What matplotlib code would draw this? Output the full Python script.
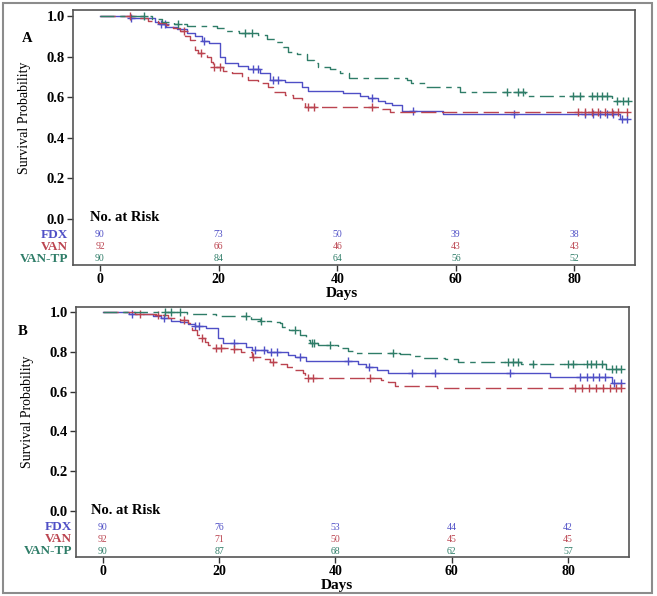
import numpy as np
import matplotlib
matplotlib.use("Agg")
import matplotlib.pyplot as plt
from matplotlib.patches import Rectangle

# ---------------- data ----------------
GROUPS = ["FDX", "VAN", "VAN-TP"]
RISK_DAYS = [0, 20, 40, 60, 80]

# Panel A
A_FDX_T = [5, 9.3, 10, 11.2, 12.9, 14.6, 16, 17.2, 18.3, 20.2, 21, 23.3, 25, 26.9, 28.7,
           31.2, 34, 35.1, 41, 43.8, 45.2, 46.9, 48, 49.2, 50.9, 57.9, 87.7]
A_FDX_S = [0.99, 0.972, 0.96, 0.947, 0.934, 0.918, 0.90, 0.878, 0.865, 0.80, 0.767, 0.754,
           0.737, 0.72, 0.685, 0.673, 0.649, 0.632, 0.619, 0.606, 0.595, 0.583, 0.572, 0.56,
           0.534, 0.516, 0.493]
A_FDX_C = [5.3, 10.3, 11, 17.5, 25.8, 26.6, 29.2, 30, 45.8, 52.8, 69.8, 81.8, 83.1, 84.3,
           85.5, 86.5, 88, 88.8]

A_VAN_T = [6, 8.1, 9.8, 11.2, 12.3, 13.5, 14.3, 15.2, 16, 16.5, 18, 18.8, 19.1, 20.8, 22.2,
           23.9, 25, 26.7, 28.3, 29.2, 31.2, 32.6, 34, 34.6, 47.5, 48.9]
A_VAN_S = [0.989, 0.978, 0.967, 0.956, 0.939, 0.928, 0.90, 0.88, 0.832, 0.819, 0.80, 0.775,
           0.747, 0.73, 0.718, 0.70, 0.685, 0.668, 0.65, 0.627, 0.611, 0.594, 0.578, 0.553,
           0.541, 0.529]
A_VAN_C = [5, 14.2, 17, 19.3, 20.2, 35, 36, 45.8, 80.6, 81.8, 83, 84, 85.2, 86.3, 87.4, 88.9]

A_TP_T = [8.7, 10.5, 12.5, 14.6, 19.7, 21.3, 23.5, 26.7, 28.1, 29.5, 30.9, 31.7, 33.2, 34.9,
          36, 36.8, 38.8, 40.5, 41.9, 51.7, 52.5, 54.8, 60.7, 71.7, 86.3]
A_TP_S = [0.985, 0.97, 0.96, 0.95, 0.942, 0.928, 0.918, 0.906, 0.885, 0.873, 0.849, 0.824,
          0.813, 0.783, 0.767, 0.747, 0.737, 0.72, 0.695, 0.685, 0.672, 0.649, 0.628, 0.606,
          0.58]
A_TP_C = [7.5, 13.2, 24.5, 25.6, 68.7, 70.5, 71.4, 79.8, 81, 82.9, 83.8, 84.6, 85.4, 87.1,
          88.1, 89.1]

A_RISK_FDX = [90, 73, 50, 39, 38]
A_RISK_VAN = [92, 66, 46, 43, 43]
A_RISK_TP = [90, 84, 64, 56, 52]

# Panel B
B_FDX_T = [4.6, 8.6, 10.1, 11.8, 13.2, 14.6, 15.8, 17.8, 19.8, 20.7, 24.7, 25.6, 28.3, 31.9,
           33, 35, 43.9, 45.3, 47.1, 49.1, 76.9, 87.5]
B_FDX_S = [0.99, 0.98, 0.968, 0.956, 0.948, 0.938, 0.931, 0.918, 0.868, 0.845, 0.826, 0.81,
           0.797, 0.784, 0.772, 0.754, 0.737, 0.722, 0.709, 0.694, 0.675, 0.645]
B_FDX_C = [5, 10.5, 15.8, 16.6, 22.6, 26.2, 27.7, 29, 29.9, 33.9, 42.2, 45.8, 53.1, 57.1,
           70.1, 82, 83.2, 84.3, 85.3, 86.3, 88, 89.2]

B_VAN_T = [5.5, 9.2, 11.3, 13.2, 14.6, 15.3, 16.2, 16.7, 17.5, 18.1, 18.8, 22.1, 23.8, 25.6,
           27.6, 28.8, 30.4, 31.6, 33, 34.4, 34.7, 47.9, 49, 50.2, 57.4]
B_VAN_S = [0.99, 0.985, 0.971, 0.96, 0.943, 0.91, 0.884, 0.868, 0.848, 0.834, 0.818, 0.812,
           0.80, 0.775, 0.764, 0.75, 0.737, 0.725, 0.709, 0.692, 0.67, 0.658, 0.647, 0.628,
           0.617]
B_VAN_C = [6.4, 9.5, 14, 17.1, 19.5, 20.4, 22.5, 25.9, 29.2, 35.3, 36.1, 45.9, 81.2, 82.5,
           83.7, 84.9, 86, 87.2, 88.3, 89.2]

B_TP_T = [14.5, 19.5, 25.5, 27, 29, 30.4, 30.9, 32, 33.9, 35, 35.6, 37, 40.5, 42.2, 43.4,
          51.1, 52.8, 54.5, 58.8, 61.1, 72, 86.6]
B_TP_S = [0.989, 0.978, 0.967, 0.956, 0.95, 0.943, 0.926, 0.91, 0.884, 0.859, 0.845, 0.834,
          0.817, 0.806, 0.792, 0.787, 0.779, 0.77, 0.762, 0.75, 0.739, 0.712]
B_TP_C = [10.7, 11.8, 13.2, 24.7, 27.3, 33, 36, 36.3, 39, 49.9, 69.7, 70.6, 71.4, 74, 80,
          80.9, 83.2, 84, 84.9, 85.8, 87.5, 88.3, 89.2]

B_RISK_FDX = [90, 76, 53, 44, 42]
B_RISK_VAN = [92, 71, 50, 45, 45]
B_RISK_TP = [90, 87, 68, 62, 57]

# ---------------- styling ----------------
COLORS = ["#4f4fc6", "#bb4450", "#2f7d68"]
DASHES = [None, (11, 4), (10, 4, 4, 4)]
SERIF = ["Liberation Serif", "DejaVu Serif"]

W, H = 657, 596
fig = plt.figure(figsize=(W / 100, H / 100), dpi=100)
fig.patch.set_facecolor("white")


def step_value(times, surv, t):
    idx = np.searchsorted(np.asarray(times), t, side="right")
    vals = np.concatenate([[1.0], surv])
    return vals[idx]


def draw_panel(rect, xlim, ylim, curves, risks, label, label_xy, days_xy, ylab_xy,
               lab_x, nar_x):
    ax = fig.add_axes(rect)
    for (t, s, c), col, dsh in zip(curves, COLORS, DASHES):
        tend = max(max(c), t[-1])
        tt = [0] + list(t) + [tend]
        ss = [1.0] + list(s) + [s[-1]]
        ln, = ax.step(tt, ss, where="post", color=col, lw=1.0)
        if dsh is not None:
            ln.set_dashes(dsh)
        cy = step_value(t, s, np.asarray(c))
        ax.plot(c, cy, ls="none", marker="+", ms=5.5, mew=1.0, color=col)
    ax.set_xlim(*xlim)
    ax.set_ylim(*ylim)
    ax.set_yticks([0.0, 0.2, 0.4, 0.6, 0.8, 1.0])
    ax.set_yticklabels(["0.0", "0.2", "0.4", "0.6", "0.8", "1.0"])
    ax.set_xticks(RISK_DAYS)
    for sp in ax.spines.values():
        sp.set_color("#555555")
        sp.set_linewidth(1.2)
    ax.tick_params(direction="out", length=4, width=1.0, color="#333333", pad=2)
    for tl in ax.get_yticklabels():
        tl.set_fontfamily(SERIF)
        tl.set_fontweight("bold")
        tl.set_fontsize(10.5)
    for tl in ax.get_xticklabels():
        tl.set_fontfamily(SERIF)
        tl.set_fontweight("bold")
        tl.set_fontsize(10)
    ax.set_xlabel("Days", family=SERIF, fontweight="bold", fontsize=11)
    ax.xaxis.set_label_coords(*days_xy)
    ax.set_ylabel("Survival Probability", family=SERIF, fontsize=10)
    ax.yaxis.set_label_coords(*ylab_xy)

    tr = ax.get_xaxis_transform()
    ax.text(nar_x, 0.185, "No. at Risk", transform=ax.transAxes, family=SERIF,
            fontweight="bold", fontsize=10.5, ha="left", va="center")
    rows_y = [0.118, 0.071, 0.024]
    for g, vals, col, yy in zip(GROUPS, risks, COLORS, rows_y):
        ax.text(lab_x, yy, g, transform=ax.transAxes, family=SERIF, fontweight="bold",
                fontsize=9.5, color=col, ha="right", va="center")
        for d, v in zip(RISK_DAYS, vals):
            ax.text(d, yy, str(v), transform=tr, family=SERIF, fontsize=7, color=col,
                    ha="center", va="center")
    fig.text(label_xy[0] / W, 1 - label_xy[1] / H, label, family=SERIF,
             fontweight="bold", fontsize=10.5, ha="center", va="center")
    return ax


draw_panel([73 / W, 1 - 265 / H, 562 / W, 255 / H], (-4.55, 90.2), (-0.227, 1.03),
           [(A_FDX_T, A_FDX_S, A_FDX_C), (A_VAN_T, A_VAN_S, A_VAN_C), (A_TP_T, A_TP_S, A_TP_C)],
           [A_RISK_FDX, A_RISK_VAN, A_RISK_TP], "A", (27, 38.5), (0.479, -0.085),
           (-0.075, 0.577), -0.009, 0.030)

draw_panel([76 / W, 1 - 557 / H, 553 / W, 250 / H], (-4.6, 90.5), (-0.231, 1.025),
           [(B_FDX_T, B_FDX_S, B_FDX_C), (B_VAN_T, B_VAN_S, B_VAN_C), (B_TP_T, B_TP_S, B_TP_C)],
           [B_RISK_FDX, B_RISK_VAN, B_RISK_TP], "B", (23, 331.5), (0.472, -0.088),
           (-0.076, 0.58), -0.007, 0.027)

fig.patches.append(Rectangle((3 / W, 3 / H), 649 / W, 590 / H, transform=fig.transFigure,
                             fill=False, edgecolor="#8c8c8c", lw=1.5))

fig.savefig("out.png", dpi=100, facecolor="white")
